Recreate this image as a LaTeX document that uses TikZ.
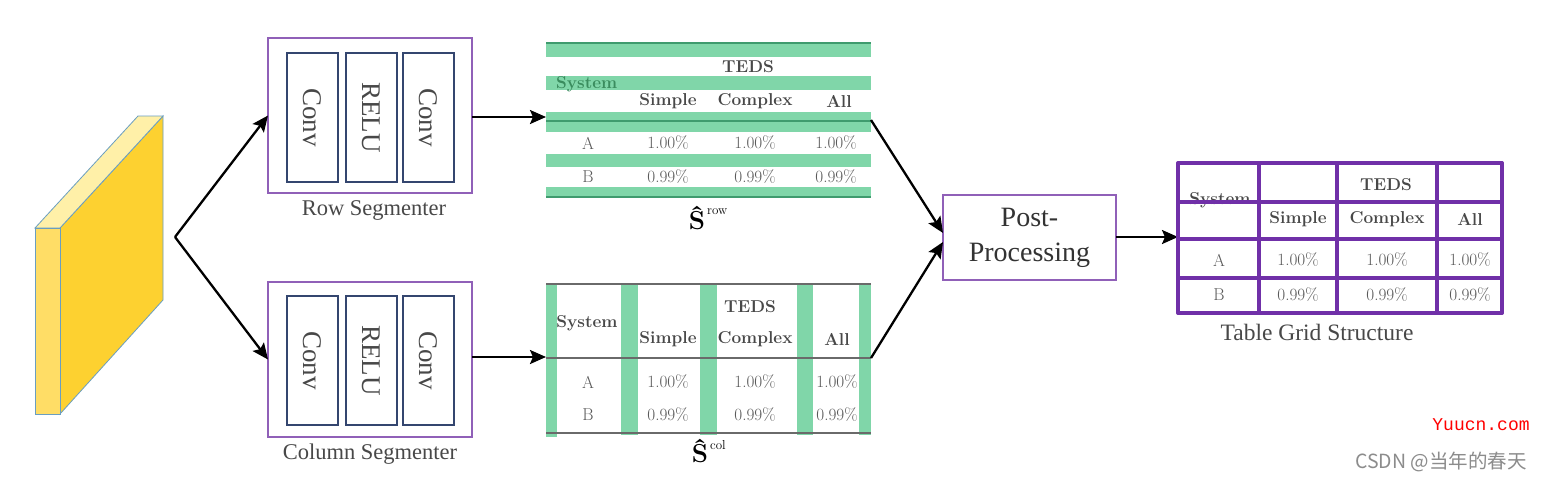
\documentclass[tikz,border=0pt]{standalone}
\usepackage{fontspec}
\newfontfamily\tms{Liberation Serif}
\newfontfamily\mono{Liberation Mono}
\newfontfamily\cjk{Noto Sans CJK SC}
\usetikzlibrary{arrows.meta}
\definecolor{slabmain}{HTML}{FDD130}
\definecolor{slabtop}{HTML}{FFF0A8}
\definecolor{slabfront}{HTML}{FFDD66}
\definecolor{slabedge}{HTML}{6A9EC0}
\definecolor{boxpurple}{HTML}{9060B8}
\definecolor{gridpurple}{HTML}{7030A8}
\definecolor{layerblue}{HTML}{34466F}
\definecolor{bandgreen}{HTML}{80D6A9}
\definecolor{darkgreen}{HTML}{3F9B6E}
\definecolor{systgreen}{HTML}{3A8C5E}
\definecolor{txtgray}{HTML}{484848}
\definecolor{numgray}{HTML}{5A5A5A}
\definecolor{rulegray}{HTML}{6A6A6A}
\begin{document}
\begin{tikzpicture}[x=1pt,y=-1pt,
  conn/.style={draw=black, line width=2.3pt, -{Stealth[length=16pt,width=14pt,inset=3pt]}},
  segbox/.style={draw=boxpurple, line width=2pt, minimum width=204pt, minimum height=155pt, inner sep=0pt, outer sep=0pt},
  layerbox/.style={draw=layerblue, line width=2pt, minimum width=129pt, minimum height=51pt, inner sep=0pt, rotate=-90, text=txtgray, font=\tms\fontsize{27}{30}\selectfont},
  caption/.style={text=txtgray, font=\tms\fontsize{22.5}{26}\selectfont, inner sep=0pt},
  tb/.style={text=txtgray, font=\fontsize{17.2}{20}\selectfont\bfseries, inner sep=0pt},
  tn/.style={text=numgray, font=\fontsize{17.2}{20}\selectfont, inner sep=0pt},
  band/.style={fill=bandgreen},
  shat/.style={text=black, inner sep=0pt},
  postbox/.style={draw=boxpurple, line width=2pt, minimum width=173pt, minimum height=85pt, inner sep=0pt, outer sep=0pt, align=center, text=black!80, font=\tms\fontsize{28}{35}\selectfont},
  gridline/.style={draw=gridpurple, line width=3.5pt, line cap=round}
]
\useasboundingbox[fill=white] (0,0) rectangle (1542,480);

% input feature slab
\filldraw[fill=slabmain, draw=slabedge, line width=0.8pt] (60,228) -- (163,116) -- (163,300) -- (60,414) -- cycle;
\filldraw[fill=slabtop, draw=slabedge, line width=0.8pt] (35,228) -- (60,228) -- (163,116) -- (138,116) -- cycle;
\filldraw[fill=slabfront, draw=slabedge, line width=0.8pt] (35,228) rectangle (60,414);
\coordinate (split) at (175,237);

% Row segmenter
\node[segbox] (rowseg) at (370,115.5) {};
\node[layerbox] (rc1) at (312.5,117.5) {Conv};
\node[layerbox] (rr) at (371,117.5) {RELU};
\node[layerbox] (rc2) at (428,117.5) {Conv};
\node[caption] (rowlab) at (374,210) {Row Segmenter};

% Column segmenter
\node[segbox] (colseg) at (370,359.5) {};
\node[layerbox] (cc1) at (312.5,360.5) {Conv};
\node[layerbox] (cr) at (371,360.5) {RELU};
\node[layerbox] (cc2) at (428,360.5) {Conv};
\node[caption] (collab) at (370,454) {Column Segmenter};

\draw[conn] (split) -- (rowseg.west);
\draw[conn] (split) -- (colseg.west);

% S row table
\fill[band] (546,42) rectangle (871,57);
\fill[band] (546,76) rectangle (871,90);
\fill[band] (546,112) rectangle (871,132);
\fill[band] (546,154) rectangle (871,167);
\fill[band] (546,187) rectangle (871,198);
\draw[darkgreen, line width=1.5pt] (546,43) -- (871,43);
\draw[darkgreen, line width=1.2pt] (546,121) -- (871,121);
\draw[darkgreen, line width=1.5pt] (546,197) -- (871,197);
\coordinate (srowin) at (546,117);
\coordinate (srowout) at (871,120);
\node[tb] (r-teds) at (748,67) {TEDS};
\node[tb, text=systgreen, anchor=west] (r-sys) at (556,84) {System};
\node[tb] (r-simple) at (668,101) {Simple};
\node[tb] (r-complex) at (755,101) {Complex};
\node[tb] (r-all) at (839,101) {All};
\node[tn] (r-a) at (588,143) {A};
\node[tn] (r-a1) at (668,143) {1.00\%};
\node[tn] (r-a2) at (755,143) {1.00\%};
\node[tn] (r-a3) at (836,143) {1.00\%};
\node[tn] (r-b) at (588,177) {B};
\node[tn] (r-b1) at (668,177) {0.99\%};
\node[tn] (r-b2) at (755,177) {0.99\%};
\node[tn] (r-b3) at (836,177) {0.99\%};
\node[shat, font=\fontsize{26}{30}\selectfont\bfseries] (srow) at (697,218) {Ŝ};
\node[shat, font=\fontsize{13}{15}\selectfont, anchor=west] (srowsup) at (707,212) {row};

% S col table
\fill[band] (546,283) rectangle (557,437);
\fill[band] (621,283) rectangle (638,435);
\fill[band] (700,283) rectangle (717,435);
\fill[band] (797,283) rectangle (813,435);
\fill[band] (859,283) rectangle (871,435);
\draw[rulegray, line width=1.5pt] (546,284) -- (871,284);
\draw[rulegray, line width=1.2pt] (546,358) -- (871,358);
\draw[rulegray, line width=1.5pt] (546,433) -- (871,433);
\coordinate (scolin) at (546,357);
\coordinate (scolout) at (871,358);
\node[tb] (c-sys) at (587,323) {System};
\node[tb] (c-teds) at (750,307) {TEDS};
\node[tb] (c-simple) at (668,339) {Simple};
\node[tb] (c-complex) at (755,339) {Complex};
\node[tb] (c-all) at (837,339) {All};
\node[tn] (c-a) at (588,382) {A};
\node[tn] (c-a1) at (668,382) {1.00\%};
\node[tn] (c-a2) at (755,382) {1.00\%};
\node[tn] (c-a3) at (837,382) {1.00\%};
\node[tn] (c-b) at (588,415) {B};
\node[tn] (c-b1) at (668,415) {0.99\%};
\node[tn] (c-b2) at (755,415) {0.99\%};
\node[tn] (c-b3) at (837,415) {0.99\%};
\node[shat, font=\fontsize{26}{30}\selectfont\bfseries] (scol) at (700,451) {Ŝ};
\node[shat, font=\fontsize{13}{15}\selectfont, anchor=west] (scolsup) at (710,445) {col};

\draw[conn] (rowseg.east |- srowin) -- (srowin);
\draw[conn] (colseg.east |- scolin) -- (scolin);

% Post-processing
\node[postbox] (post) at (1029.5,237.5) {Post-\\Processing};
\draw[conn] (srowout) -- ([yshift=4.5pt]post.west);
\draw[conn] (scolout) -- ([yshift=-4.5pt]post.west);

% Table grid structure
\coordinate (gridin) at (1178,237);
\draw[conn] (post.east |- gridin) -- (gridin);
\foreach \yy in {163,202,239,278,313} {\draw[gridline] (1178,\yy) -- (1502,\yy);}
\foreach \xx in {1178,1259,1337,1437,1502} {\draw[gridline] (\xx,163) -- (\xx,313);}
\node[tb] (g-sys) at (1220,200) {System};
\draw[gridline] (1180,202) -- (1257,202);
\node[tb] (g-teds) at (1386,185) {TEDS};
\node[tb] (g-simple) at (1298,219) {Simple};
\node[tb] (g-complex) at (1387,219) {Complex};
\node[tb] (g-all) at (1470,219) {All};
\node[tn] (g-a) at (1219,260) {A};
\node[tn] (g-a1) at (1298,260) {1.00\%};
\node[tn] (g-a2) at (1387,260) {1.00\%};
\node[tn] (g-a3) at (1470,260) {1.00\%};
\node[tn] (g-b) at (1219,295) {B};
\node[tn] (g-b1) at (1298,295) {0.99\%};
\node[tn] (g-b2) at (1387,295) {0.99\%};
\node[tn] (g-b3) at (1470,295) {0.99\%};
\node[caption, font=\tms\fontsize{23.5}{26}\selectfont] (gridlab) at (1317,332) {Table Grid Structure};

% watermarks
\node[text=red, font=\mono\fontsize{18}{20}\selectfont, inner sep=0pt] (wm1) at (1481,425) {Yuucn.com};
\node[text=black!45, font=\cjk\fontsize{19.5}{22}\selectfont, inner sep=0pt] (wm2) at (1441,462) {CSDN @当年的春天};
\end{tikzpicture}
\end{document}
